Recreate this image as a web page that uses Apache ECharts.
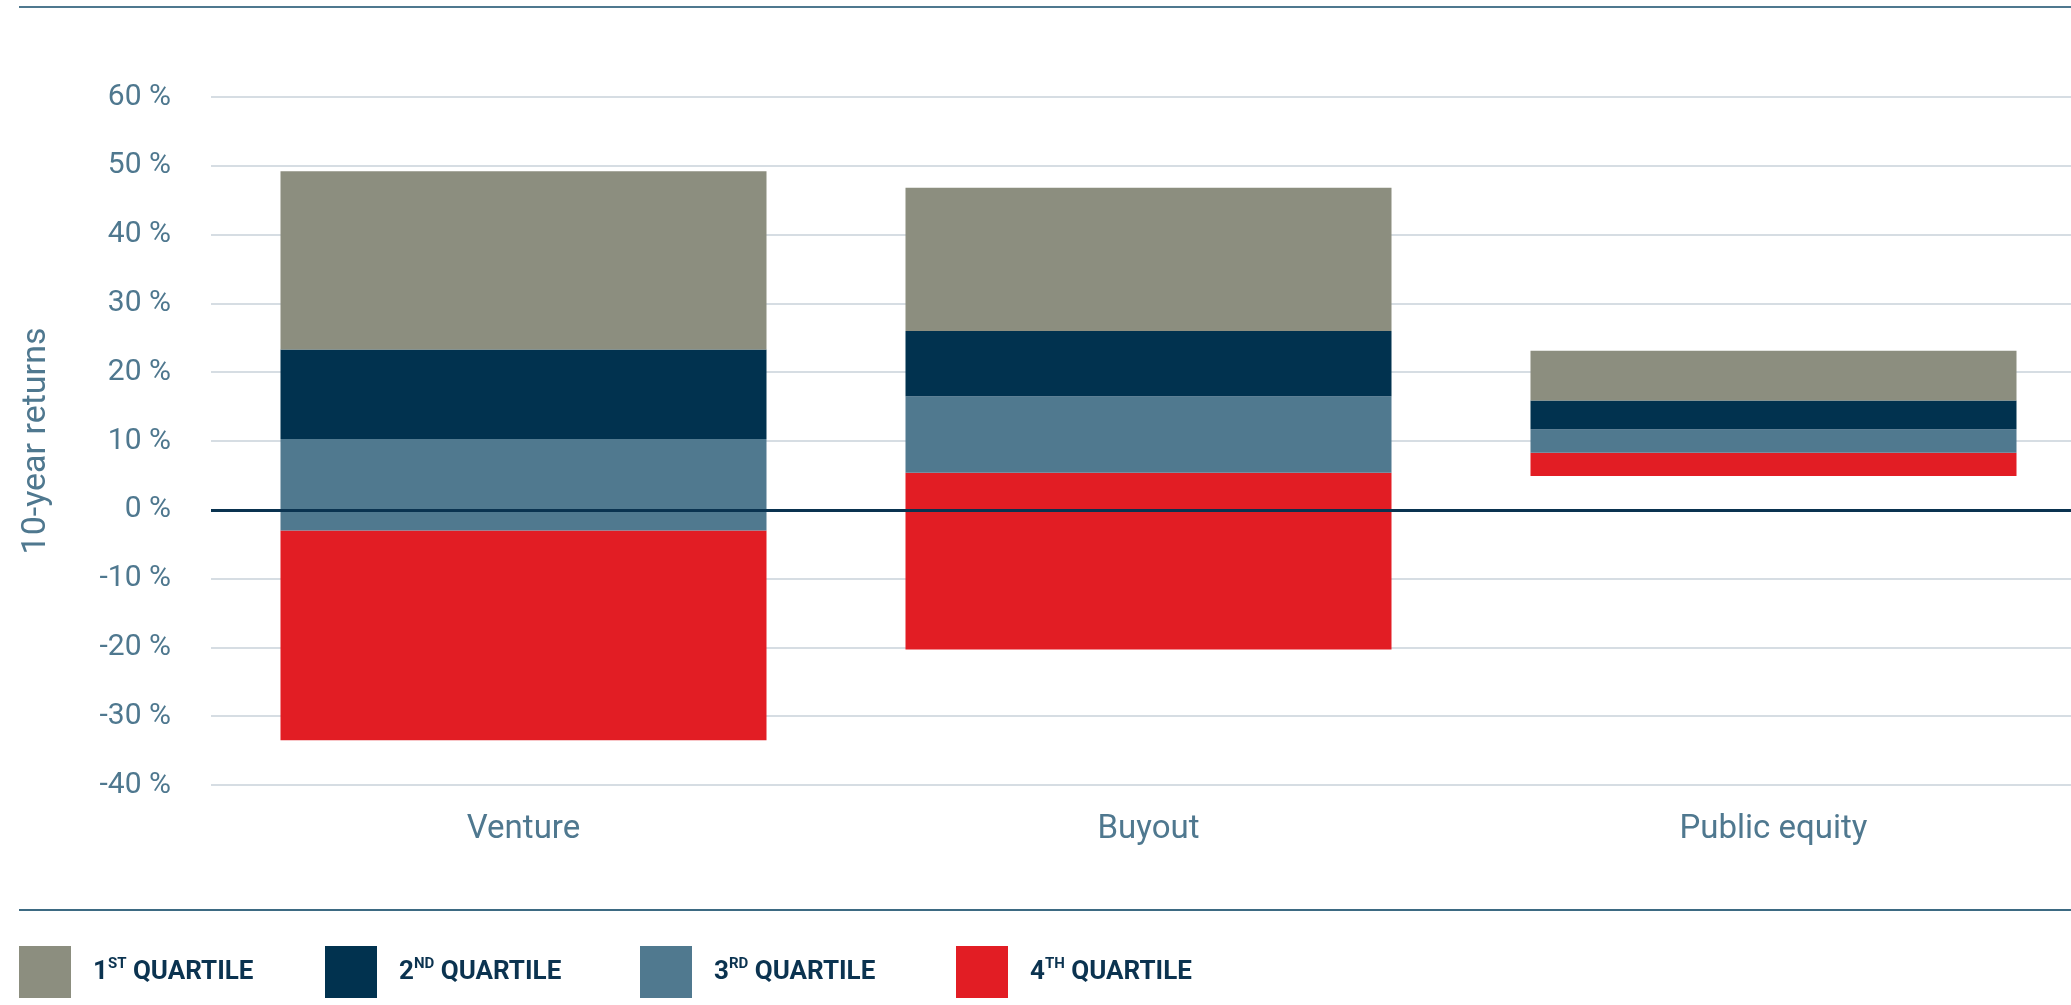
<!DOCTYPE html>
<html>
<head>
<meta charset="utf-8">
<script src="https://cdn.jsdelivr.net/npm/echarts@6/dist/echarts.min.js"></script>
<style>
html,body{margin:0;padding:0;background:#fff;}
#chart{width:2071px;height:1005px;}
</style>
</head>
<body>
<div id="chart"></div>
<script>
// ---- data (10-year return ranges, %) ----
const categories = ['Venture', 'Buyout', 'Public equity'];
const bottomOfRange = [-33.5, -20.3, 4.9];   // lowest return (bottom of 4th quartile)
const q4Top = [-3.0, 5.4, 8.3];              // boundary 4th / 3rd quartile
const q3Top = [10.3, 16.5, 11.7];            // boundary 3rd / 2nd quartile
const q2Top = [23.3, 26.0, 15.9];            // boundary 2nd / 1st quartile
const q1Top = [49.2, 46.8, 23.1];            // top of range
const yTicks = [-40, -30, -20, -10, 0, 10, 20, 30, 40, 50, 60];
const legendNames = ['1ST QUARTILE', '2ND QUARTILE', '3RD QUARTILE', '4TH QUARTILE'];
const legendParts = [['1', 'ST'], ['2', 'ND'], ['3', 'RD'], ['4', 'TH']];

const colors = {
  q1: '#8c8e7f', q2: '#01324f', q3: '#50798f', q4: '#e21d24',
  axisText: '#4f788f', grid: '#d6dde3', zero: '#0a3350', legendText: '#0b3350'
};

const diff = (a, b) => a.map((v, i) => +(v - b[i]).toFixed(2));

const chart = echarts.init(document.getElementById('chart'), null, {renderer: 'canvas'});

const barCommon = {
  type: 'bar', stack: 'range', stackStrategy: 'all', barWidth: 486,
  emphasis: {disabled: true}
};

const option = {
  animation: false,
  backgroundColor: '#ffffff',
  textStyle: {fontFamily: 'Roboto'},
  grid: {left: 211, top: 97, width: 1875, height: 688, containLabel: false, outerBoundsMode: 'none'},
  xAxis: {
    type: 'category', data: categories,
    axisLine: {show: false}, axisTick: {show: false},
    axisLabel: {color: colors.axisText, fontSize: 33, margin: 28, fontFamily: 'Roboto'}
  },
  yAxis: {
    type: 'value', min: yTicks[0], max: yTicks[yTicks.length - 1], interval: 10,
    name: '10-year returns', nameLocation: 'middle', nameGap: 158, nameRotate: 90,
    nameTextStyle: {color: colors.axisText, fontSize: 34, fontFamily: 'Roboto'},
    axisLine: {show: false}, axisTick: {show: false},
    axisLabel: {color: colors.axisText, fontSize: 30, margin: 40, fontFamily: 'Roboto',
      formatter: v => v + ' %'},
    splitLine: {lineStyle: {color: colors.grid, width: 2}}
  },
  legend: legendNames.map((n, i) => ({
    data: [n], left: [19, 325, 640, 956][i], top: 946, padding: 0,
    itemWidth: 52, itemHeight: 52, icon: 'rect', selectedMode: false,
    formatter: () => '{n|' + legendParts[i][0] + '}{s|' + legendParts[i][1] + '}{n| QUARTILE}',
    textStyle: {
      padding: [0, 0, 0, 17],
      rich: {
        n: {fontSize: 26, fontWeight: 'bold', color: colors.legendText, fontFamily: 'Roboto', lineHeight: 30},
        s: {fontSize: 15, fontWeight: 'bold', color: colors.legendText, fontFamily: 'Roboto', verticalAlign: 'top', lineHeight: 24}
      }
    }
  })),
  graphic: [
    {type: 'line', shape: {x1: 19, y1: 7, x2: 2071, y2: 7}, style: {stroke: '#4f788f', lineWidth: 2}, silent: true},
    {type: 'line', shape: {x1: 19, y1: 910, x2: 2071, y2: 910}, style: {stroke: '#3d6a82', lineWidth: 2}, silent: true}
  ],
  series: [
    Object.assign({}, barCommon, {name: 'base', data: bottomOfRange, itemStyle: {color: 'rgba(0,0,0,0)'}, silent: true}),
    Object.assign({}, barCommon, {name: legendNames[3], data: diff(q4Top, bottomOfRange), itemStyle: {color: colors.q4}}),
    Object.assign({}, barCommon, {name: legendNames[2], data: diff(q3Top, q4Top), itemStyle: {color: colors.q3}}),
    Object.assign({}, barCommon, {name: legendNames[1], data: diff(q2Top, q3Top), itemStyle: {color: colors.q2}}),
    Object.assign({}, barCommon, {name: legendNames[0], data: diff(q1Top, q2Top), itemStyle: {color: colors.q1},
      markLine: {
        silent: true, symbol: ['none', 'none'], label: {show: false},
        lineStyle: {color: colors.zero, width: 3, type: 'solid'},
        emphasis: {disabled: true},
        data: [{yAxis: 0}]
      }
    })
  ]
};

chart.setOption(option);
</script>
</body>
</html>
